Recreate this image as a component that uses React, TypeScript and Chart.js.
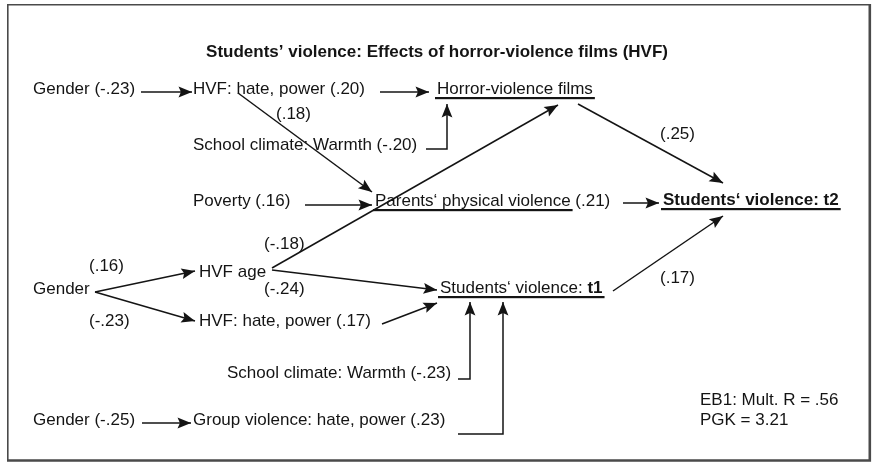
import React, { useEffect, useRef } from "react";
import { Chart, registerables } from "chart.js";

Chart.register(...registerables);

// ---- content ----
const TITLE = "Students’ violence: Effects of horror-violence films (HVF)";

// each label: runs of [text, bold]
const labelRuns: [string, boolean][][] = [
  [["Gender (-.23)", false]],
  [["HVF: hate, power (.20)", false]],
  [["Horror-violence films", false]],
  [["(.18)", false]],
  [["School climate: Warmth (-.20)", false]],
  [["(.25)", false]],
  [["Poverty (.16)", false]],
  [["Parents‘ physical violence", false], [" (.21)", false]],
  [["Students‘ violence: t2", true]],
  [["(-.18)", false]],
  [["(.16)", false]],
  [["HVF age", false]],
  [["Gender", false]],
  [["(-.24)", false]],
  [["Students‘ violence: ", false], ["t1", true]],
  [["(.17)", false]],
  [["(-.23)", false]],
  [["HVF: hate, power (.17)", false]],
  [["School climate: Warmth (-.23)", false]],
  [["Gender (-.25)", false]],
  [["Group violence: hate, power (.23)", false]],
  [["EB1: Mult. R = .56", false]],
  [["PGK = 3.21", false]],
];
// number of leading runs underlined per label
const underlinedRuns: number[] = [0, 0, 1, 0, 0, 0, 0, 1, 1, 0, 0, 0, 0, 0, 2, 0, 0, 0, 0, 0, 0, 0, 0];

// layout (diagram units = pixels of the 874 x 463 figure)
const labelX: number[] = [33, 193, 437, 276, 193, 660, 193, 375, 663, 264, 89, 199, 33, 264, 440, 660, 89, 199, 227, 33, 193, 700, 700];
const labelY: number[] = [94, 94, 94, 119, 150, 139, 206, 206, 205, 249, 271, 277, 294, 294, 293, 283, 326, 326, 378, 425, 425, 405, 425];

// arrows: polyline points, arrowhead at last point
const arrowPaths: [number, number][][] = [
  [[141, 92], [192, 92]],
  [[380, 92], [429, 92]],
  [[238, 93], [372, 192]],
  [[426, 149], [447, 149], [447, 104]],
  [[578, 104], [723, 183]],
  [[272, 268], [558, 105]],
  [[305, 205], [372, 205]],
  [[623, 203], [659, 203]],
  [[95, 292], [195, 271]],
  [[95, 292], [195, 321]],
  [[272, 270], [437, 290]],
  [[382, 324], [437, 303]],
  [[613, 291], [723, 216]],
  [[458, 379], [470, 379], [470, 302]],
  [[458, 434], [503, 434], [503, 302]],
  [[142, 423], [191, 423]],
];

const FONT = '"Liberation Sans", Arial, Helvetica, sans-serif';
const INK = "#141414";

const diagramPlugin = {
  id: "diagram",
  beforeDraw(chart: any) {
    const ctx = chart.ctx;
    ctx.save();
    ctx.fillStyle = "#ffffff";
    ctx.fillRect(0, 0, chart.width, chart.height);
    ctx.restore();
  },
  afterDatasetsDraw(chart: any) {
    const ctx: CanvasRenderingContext2D = chart.ctx;
    const xs = chart.scales.x;
    const ys = chart.scales.y;
    const X = (v: number) => xs.getPixelForValue(v);
    const Y = (v: number) => ys.getPixelForValue(v);
    ctx.save();

    // frame
    ctx.strokeStyle = "#4a4a4a";
    ctx.lineWidth = 1.6;
    ctx.beginPath();
    ctx.moveTo(X(869), Y(4.8));
    ctx.lineTo(X(7.8), Y(4.8));
    ctx.lineTo(X(7.8), Y(460));
    ctx.stroke();
    ctx.lineWidth = 2.6;
    ctx.beginPath();
    ctx.moveTo(X(7), Y(460.5));
    ctx.lineTo(X(869.8), Y(460.5));
    ctx.lineTo(X(869.8), Y(4));
    ctx.stroke();

    // arrowheads
    ctx.fillStyle = INK;
    arrowPaths.forEach((p) => {
      const [x1, y1] = p[p.length - 2];
      const [x2, y2] = p[p.length - 1];
      const tx = X(x2), ty = Y(y2);
      const a = Math.atan2(ty - Y(y1), tx - X(x1));
      const L = 13.5, W = 5.4;
      ctx.beginPath();
      ctx.moveTo(tx, ty);
      ctx.lineTo(tx - L * Math.cos(a) + W * Math.sin(a), ty - L * Math.sin(a) - W * Math.cos(a));
      ctx.lineTo(tx - L * 0.82 * Math.cos(a), ty - L * 0.82 * Math.sin(a));
      ctx.lineTo(tx - L * Math.cos(a) - W * Math.sin(a), ty - L * Math.sin(a) + W * Math.cos(a));
      ctx.closePath();
      ctx.fill();
    });

    // title
    ctx.fillStyle = INK;
    ctx.textBaseline = "alphabetic";
    ctx.font = `bold 17px ${FONT}`;
    ctx.textAlign = "center";
    ctx.fillText(TITLE, X(437), Y(57));

    // labels
    ctx.textAlign = "left";
    labelRuns.forEach((runs, i) => {
      let cx = X(labelX[i]);
      const by = Y(labelY[i]);
      const startX = cx;
      let ulEnd = cx;
      runs.forEach(([t, b], k) => {
        ctx.font = `${b ? "bold " : ""}17px ${FONT}`;
        ctx.fillText(t, cx, by);
        cx += ctx.measureText(t).width;
        if (k < underlinedRuns[i]) ulEnd = cx;
      });
      if (underlinedRuns[i] > 0) {
        ctx.fillRect(startX - 2, by + 3, ulEnd - startX + 4, 2.2);
      }
    });
    ctx.restore();
  },
};

export default function App() {
  const ref = useRef<HTMLCanvasElement | null>(null);
  useEffect(() => {
    if (!ref.current) return;
    const chart = new Chart(ref.current, {
      type: "scatter",
      data: {
        datasets: arrowPaths.map((p) => ({
          data: p.map(([x, y]) => ({ x, y })),
          showLine: true,
          borderColor: INK,
          borderWidth: 1.5,
          pointRadius: 0,
          fill: false,
          tension: 0,
        })),
      },
      options: {
        animation: false,
        responsive: false,
        events: [],
        layout: { padding: 0 },
        plugins: { legend: { display: false }, tooltip: { enabled: false }, title: { display: false } },
        scales: {
          x: { type: "linear", display: false, min: 0, max: 874 },
          y: { type: "linear", display: false, min: 0, max: 463, reverse: true },
        },
      },
      plugins: [diagramPlugin],
    } as any);
    return () => chart.destroy();
  }, []);
  return (
    <div style={{ position: "fixed", left: 0, top: 0, width: 874, height: 463, background: "#fff" }}>
      <canvas ref={ref} width={874} height={463} style={{ display: "block", width: 874, height: 463 }} />
    </div>
  );
}
